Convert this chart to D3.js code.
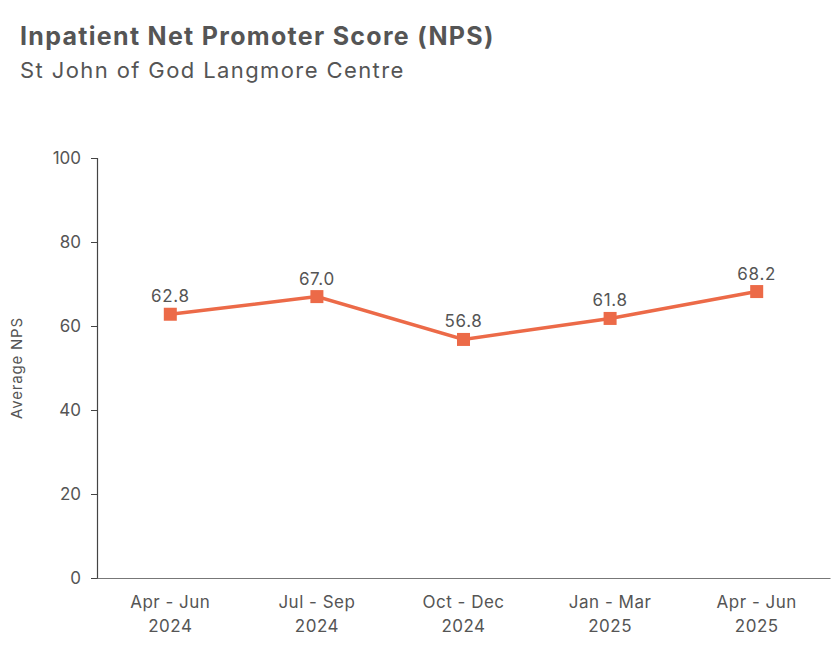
<!DOCTYPE html>
<html>
<head>
<meta charset="utf-8">
<script src="https://cdn.jsdelivr.net/npm/d3@7"></script>
<style>
  body { margin: 0; background: #fff; }
  text { font-family: Inter, Roboto, sans-serif; fill: #555; }
</style>
</head>
<body>
<div class="chart"></div>
<script>
const quarters = ['Apr - Jun|2024', 'Jul - Sep|2024', 'Oct - Dec|2024', 'Jan - Mar|2025', 'Apr - Jun|2025'];
const npsValues = [62.8, 67.0, 56.8, 61.8, 68.2];
const yTicks = [0, 20, 40, 60, 80, 100];

const width = 840;
const height = 654;
const plotLeft = 97, plotRight = 830, plotTop = 158, plotBottom = 578;
const lineColor = '#ec6a48';

const svg = d3.select('.chart').append('svg')
  .attr('width', width)
  .attr('height', height);

svg.append('text')
  .attr('x', 20).attr('y', 45)
  .style('font-size', '25px').style('font-weight', 700)
  .style('letter-spacing', '1.3px')
  .text('Inpatient Net Promoter Score (NPS)');

svg.append('text')
  .attr('x', 20).attr('y', 78)
  .style('font-size', '22px')
  .style('letter-spacing', '1.4px')
  .text('St John of God Langmore Centre');

const x = d3.scaleBand()
  .domain(quarters)
  .range([plotLeft, plotRight]);

const y = d3.scaleLinear()
  .domain([0, 100])
  .range([plotBottom, plotTop]);

// y axis
const yAxis = svg.append('g')
  .attr('transform', 'translate(' + plotLeft + ',0)')
  .call(d3.axisLeft(y).tickValues(yTicks).tickSize(6).tickPadding(10));
yAxis.select('.domain').attr('stroke', '#444').attr('stroke-width', 1.2);
yAxis.selectAll('.tick line').attr('stroke', '#444');
yAxis.selectAll('.tick text')
  .style('font-size', '17px')
  .attr('fill', '#555');

// x axis
const xAxis = svg.append('g')
  .attr('transform', 'translate(0,' + plotBottom + ')')
  .call(d3.axisBottom(x).tickSize(0).tickPadding(0));
xAxis.select('.domain').attr('stroke', '#777').attr('stroke-width', 1.2);
xAxis.selectAll('.tick text').remove();
xAxis.selectAll('.tick').each(function (d) {
  const parts = d.split('|');
  const t = d3.select(this).append('text')
    .attr('text-anchor', 'middle')
    .style('font-size', '17px')
    .style('letter-spacing', '0.5px')
    .attr('fill', '#555');
  parts.forEach((p, i) => {
    t.append('tspan').attr('x', 0).attr('y', 30 + i * 24).text(p);
  });
});

svg.append('text')
  .attr('transform', 'translate(22,' + (plotTop + plotBottom) / 2 + ') rotate(-90)')
  .attr('text-anchor', 'middle')
  .style('font-size', '15px')
  .style('letter-spacing', '0.8px')
  .text('Average NPS');

const data = quarters.map((q, i) => ({ q: q, v: npsValues[i] }));
const cx = d => x(d.q) + x.bandwidth() / 2;

svg.append('path')
  .datum(data)
  .attr('fill', 'none')
  .attr('stroke', lineColor)
  .attr('stroke-width', 3.5)
  .attr('d', d3.line().x(cx).y(d => y(d.v)));

svg.selectAll('rect.marker')
  .data(data)
  .enter()
  .append('rect')
  .attr('class', 'marker')
  .attr('x', d => cx(d) - 6.5)
  .attr('y', d => y(d.v) - 6.5)
  .attr('width', 13)
  .attr('height', 13)
  .attr('fill', lineColor);

svg.selectAll('text.val')
  .data(data)
  .enter()
  .append('text')
  .attr('class', 'val')
  .attr('x', cx)
  .attr('y', d => y(d.v) - 12)
  .attr('text-anchor', 'middle')
  .style('font-size', '17px')
  .style('letter-spacing', '0.7px')
  .text(d => d.v.toFixed(1));
</script>
</body>
</html>
